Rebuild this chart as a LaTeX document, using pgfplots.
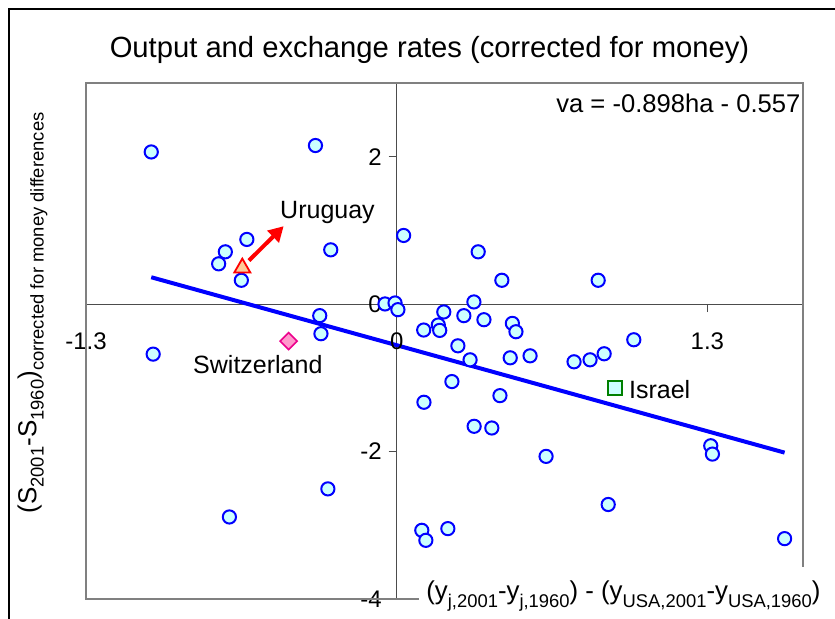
\documentclass[border=0pt]{standalone}
\usepackage{fontspec}
\setmainfont{Liberation Sans}
\usepackage{pgfplots}
\pgfplotsset{compat=1.18}
\usetikzlibrary{arrows.meta}

\definecolor{ptfill}{RGB}{204,255,255}
\definecolor{uyfill}{RGB}{255,204,153}
\definecolor{chfill}{RGB}{255,153,204}
\definecolor{axgray}{RGB}{128,128,128}

\pgfplotstableread{
x y
-1.027 2.065
-0.340 2.152
-0.627 0.878
-0.717 0.710
-0.745 0.547
-0.650 0.324
-0.276 0.737
0.029 0.932
0.341 0.710
0.440 0.324
0.843 0.324
-0.049 0.003
-0.007 0.016
0.005 -0.075
0.323 0.030
-0.322 -0.156
-0.317 -0.401
-1.019 -0.678
0.197 -0.106
0.281 -0.156
0.365 -0.211
0.113 -0.351
0.174 -0.283
0.180 -0.356
0.484 -0.261
0.499 -0.374
0.256 -0.565
0.307 -0.755
0.475 -0.728
0.558 -0.701
0.742 -0.782
0.809 -0.755
0.868 -0.673
0.992 -0.483
0.231 -1.050
0.114 -1.331
0.432 -1.241
0.324 -1.657
0.398 -1.680
0.625 -2.065
1.314 -1.921
1.321 -2.034
0.885 -2.718
1.623 -3.181
0.105 -3.068
0.122 -3.204
0.214 -3.045
-0.288 -2.506
-0.700 -2.887
}\countries

\newcommand{\sub}[1]{\raisebox{-0.28em}{\fontsize{9.2}{10}\selectfont #1}}

\begin{document}
\begin{tikzpicture}
\useasboundingbox (0,0) rectangle (417.5pt,309pt);
% chart border (only left and top are inside the picture)
\draw[line width=1.2pt] (4.5pt,-2pt) -- (4.5pt,304.5pt) -- (420pt,304.5pt);

\begin{axis}[
  at={(43pt,9.5pt)}, anchor=south west,
  scale only axis, width=358.5pt, height=258pt,
  xmin=-1.3, xmax=1.7, ymin=-4, ymax=3,
  axis lines=middle,
  axis line style={-, draw=black!70, line width=0.6pt},
  xtick={-1.3,0,1.3}, xticklabels={-1.3,0,1.3},
  ytick={-4,-2,0,2}, yticklabels={-4,-2,0,2},
  tick align=outside, major tick length=4pt,
  tick style={black!70, line width=0.6pt},
  ticklabel style={font=\fontsize{12}{14}\selectfont},
  xticklabel style={yshift=-7pt},
  clip=false,
]
\draw[axgray, line width=0.7pt] (rel axis cs:0,0) rectangle (rel axis cs:1,1);

\addplot[blue, line width=2pt] coordinates {(-1.027,0.365) (1.623,-2.014)};

\addplot[only marks, mark=*, mark size=3.3pt,
  mark options={draw=blue, fill=ptfill, line width=1pt}] table {\countries};

% Uruguay
\addplot[only marks, mark=triangle*, mark size=4.6pt,
  mark options={draw=red, fill=uyfill, line width=0.9pt}] coordinates {(-0.646,0.493)};
% Switzerland
\addplot[only marks, mark=square*, mark size=3pt,
  mark options={draw=magenta, fill=chfill, line width=0.8pt, rotate=45}] coordinates {(-0.452,-0.501)};
% Israel
\addplot[only marks, mark=square*, mark size=3.5pt,
  mark options={draw=green!50!black, fill=ptfill, line width=0.8pt}] coordinates {(0.913,-1.140)};

\draw[red, line width=2pt, -{Triangle[length=7.5pt,width=8pt]}]
  (axis cs:-0.618,0.592) -- (axis cs:-0.473,1.058);

% tick labels at the origin
\node[anchor=east, font=\fontsize{12}{14}\selectfont, xshift=-4pt] at (axis cs:0,0) {0};
\node[anchor=north, font=\fontsize{12}{14}\selectfont, yshift=-11pt] at (axis cs:0,0) {0};

\node[anchor=base west, inner sep=0pt, font=\fontsize{12.5}{14}\selectfont] at (axis cs:-0.489,1.163) {Uruguay};
\node[anchor=base west, inner sep=0pt, font=\fontsize{12.5}{14}\selectfont] at (axis cs:-0.853,-0.946) {Switzerland};
\node[anchor=base west, inner sep=0pt, font=\fontsize{12.5}{14}\selectfont] at (axis cs:0.971,-1.276) {Israel};
\node[anchor=base east, inner sep=0pt, font=\fontsize{12.8}{14}\selectfont] at (axis cs:1.691,2.605) {va = -0.898ha - 0.557};
\end{axis}

% title
\node[anchor=base, inner sep=0pt, font=\fontsize{14.6}{18}\selectfont] at (214.75pt,280.25pt)
  {Output and exchange rates (corrected for money)};

% x axis title on a white box
\fill[white] (209.5pt,-1pt) rectangle (420pt,25.5pt);
\node[anchor=west, inner sep=0pt, font=\fontsize{12.9}{14}\selectfont] at (213pt,11pt)
  {(y\sub{j,2001}-y\sub{j,1960}) - (y\sub{USA,2001}-y\sub{USA,1960})};

% y axis title
\node[rotate=90, anchor=center, inner sep=0pt, font=\fontsize{13}{14}\selectfont] at (16.25pt,152.5pt)
  {(S\sub{2001}-S\sub{1960})\sub{corrected for money differences}};
\end{tikzpicture}
\end{document}
